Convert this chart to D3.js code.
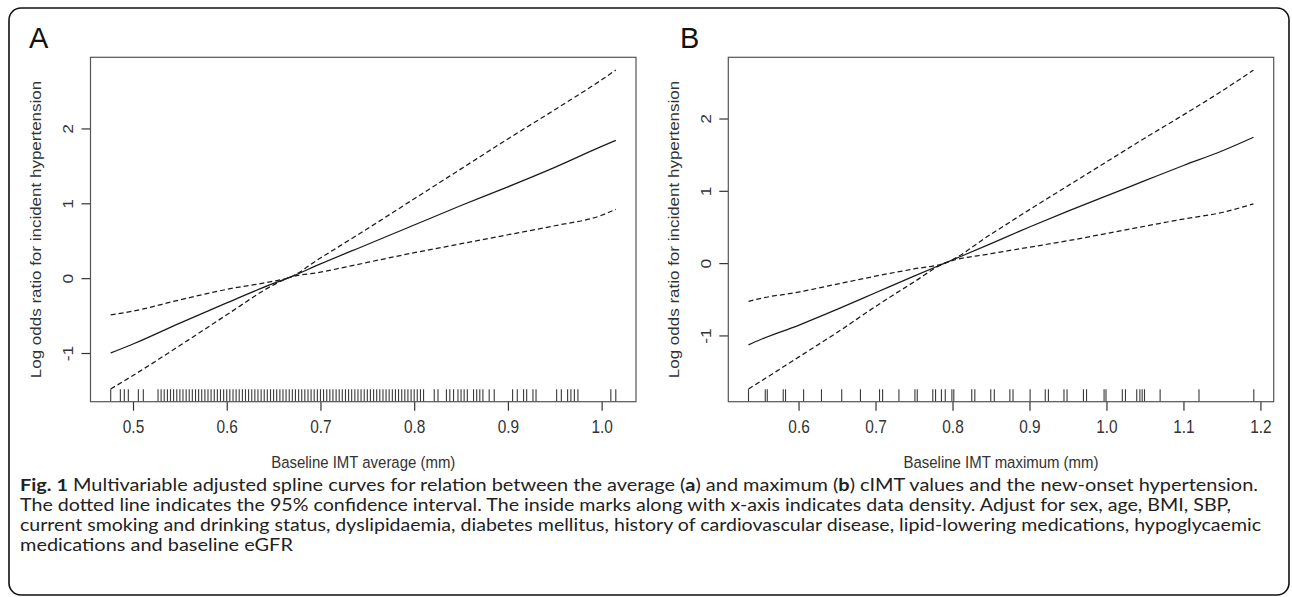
<!DOCTYPE html>
<html>
<head>
<meta charset="utf-8">
<script src="https://cdn.jsdelivr.net/npm/d3@7"></script>
<style>
  html, body { margin: 0; padding: 0; background: #fff; }
  svg { display: block; }
</style>
</head>
<body>
<div id="chart"></div>
<script>
// ---- data ----

// panel A : baseline IMT average
const imtAvg   = [0.4762, 0.50, 0.55, 0.60, 0.65, 0.665, 0.70, 0.75, 0.80, 0.85, 0.90, 0.95, 1.00, 1.0151];
const logOrAvg = [-1.00, -0.88, -0.60, -0.33, -0.07, 0.00, 0.19, 0.45, 0.71, 0.97, 1.22, 1.48, 1.76, 1.84];
const upperAvg = [-0.49, -0.44, -0.29, -0.15, -0.04, 0.00, 0.27, 0.66, 1.06, 1.46, 1.86, 2.25, 2.65, 2.78];
const lowerAvg = [-1.48, -1.30, -0.90, -0.49, -0.09, 0.00, 0.08, 0.21, 0.34, 0.46, 0.58, 0.70, 0.84, 0.92];
const rugAvg = [
  0.4762, 0.4865, 0.4907, 0.4950, 0.5057, 0.5110,
  0.5267, 0.5300, 0.5333, 0.5367, 0.5400, 0.5433, 0.5467, 0.5500, 0.5533, 0.5567,
  0.5600, 0.5633, 0.5667, 0.5700, 0.5733, 0.5767, 0.5800, 0.5833, 0.5867, 0.5900,
  0.5933, 0.5967, 0.6000, 0.6033, 0.6067, 0.6100, 0.6133, 0.6167, 0.6200, 0.6233,
  0.6267, 0.6300, 0.6333, 0.6367, 0.6400, 0.6433, 0.6467, 0.6500, 0.6533, 0.6567,
  0.6600, 0.6633, 0.6667, 0.6700, 0.6733, 0.6767, 0.6800, 0.6833, 0.6867, 0.6900,
  0.6933, 0.6967, 0.7000, 0.7033, 0.7067, 0.7100, 0.7133, 0.7167, 0.7200, 0.7233,
  0.7267, 0.7300, 0.7333, 0.7367, 0.7400, 0.7433, 0.7467, 0.7500, 0.7533, 0.7567,
  0.7600, 0.7633, 0.7667, 0.7700, 0.7733, 0.7767, 0.7800, 0.7833, 0.7867, 0.7900,
  0.7933, 0.7967, 0.8000, 0.8033, 0.8067, 0.8100,
  0.8214, 0.8254,
  0.8344, 0.8380, 0.8420, 0.8467, 0.8500, 0.8533, 0.8567, 0.8633, 0.8667, 0.8700,
  0.8733, 0.8800, 0.8854,
  0.9050, 0.9100, 0.9167, 0.9200, 0.9267, 0.9300,
  0.9520, 0.9570, 0.9637, 0.9672, 0.9709, 0.9747,
  1.0098, 1.0151
];
const xTicksAvg = [0.5, 0.6, 0.7, 0.8, 0.9, 1.0];

// panel B : baseline IMT maximum
const imtMax   = [0.535, 0.55, 0.60, 0.65, 0.70, 0.75, 0.79, 0.85, 0.90, 0.95, 1.00, 1.05, 1.10, 1.15, 1.191];
const logOrMax = [-1.13, -1.06, -0.86, -0.64, -0.41, -0.18, 0.00, 0.27, 0.50, 0.72, 0.93, 1.14, 1.35, 1.55, 1.74];
const upperMax = [-0.53, -0.49, -0.40, -0.29, -0.18, -0.08, 0.00, 0.40, 0.74, 1.07, 1.40, 1.73, 2.05, 2.38, 2.67];
const lowerMax = [-1.74, -1.64, -1.30, -0.96, -0.60, -0.26, 0.00, 0.13, 0.22, 0.31, 0.41, 0.51, 0.61, 0.70, 0.82];
const rugMax = [
  0.5350, 0.5568, 0.5594, 0.5801, 0.5831, 0.6066, 0.6298, 0.6561, 0.6804, 0.7052,
  0.7092, 0.7304, 0.7512, 0.7542, 0.7744, 0.7780, 0.7856, 0.7906, 0.7992, 0.8017,
  0.8250, 0.8290, 0.8497, 0.8543, 0.8745, 0.8786, 0.9008, 0.9205, 0.9246, 0.9448,
  0.9488, 0.9701, 0.9741, 0.9969, 0.9994, 1.0206, 1.0247, 1.0393, 1.0434, 1.0464,
  1.0494, 1.0697, 1.1202, 1.1914
];
const xTicksMax = [0.6, 0.7, 0.8, 0.9, 1.0, 1.1, 1.2];

const yTicks = [-1, 0, 1, 2];

const captionLines = [
  [["Fig. 1", true], [" Multivariable adjusted spline curves for relation between the average (", false], ["a", true],
   [") and maximum (", false], ["b", true], [") cIMT values and the new-onset hypertension.", false]],
  [["The dotted line indicates the 95% confidence interval. The inside marks along with x-axis indicates data density. Adjust for sex, age, BMI, SBP,", false]],
  [["current smoking and drinking status, dyslipidaemia, diabetes mellitus, history of cardiovascular disease, lipid-lowering medications, hypoglycaemic", false]],
  [["medications and baseline eGFR", false]]
];

// ---- layout ----
const WIDTH = 1292, HEIGHT = 597;
const PLOT_TOP = 57.3, PLOT_BOTTOM = 401.7;
const SQUEEZE = 0.88;          // the figure image is a little narrower than it is tall
const FONT = '"Liberation Sans", Arial, Helvetica, sans-serif';

document.addEventListener('DOMContentLoaded', function() {
    const svg = d3.select('#chart').append('svg')
        .attr('width', WIDTH)
        .attr('height', HEIGHT);

    // outer frame
    svg.append('rect')
        .attr('x', 9).attr('y', 8)
        .attr('width', 1280).attr('height', 587)
        .attr('rx', 12).attr('ry', 12)
        .attr('fill', 'none')
        .attr('stroke', '#111')
        .attr('stroke-width', 1.6);

    drawPanel(svg, {
        letter: 'A', letterX: 29,
        left: 90.5, right: 636,
        xs: imtAvg, center: logOrAvg, upper: upperAvg, lower: lowerAvg,
        rug: rugAvg, xTicks: xTicksAvg,
        xTitle: 'Baseline IMT average (mm)'
    });

    drawPanel(svg, {
        letter: 'B', letterX: 680,
        left: 728.3, right: 1273.7,
        xs: imtMax, center: logOrMax, upper: upperMax, lower: lowerMax,
        rug: rugMax, xTicks: xTicksMax,
        xTitle: 'Baseline IMT maximum (mm)'
    });

    drawCaption(svg);
});

// R style axis range: data range stretched by 4% on each side
function padExtent(ext) {
    const pad = (ext[1] - ext[0]) * 0.04;
    return [ext[0] - pad, ext[1] + pad];
}

function drawPanel(svg, cfg) {
    const g = svg.append('g');

    const x = d3.scaleLinear()
        .domain(padExtent(d3.extent(cfg.xs)))
        .range([cfg.left, cfg.right]);
    const y = d3.scaleLinear()
        .domain(padExtent(d3.extent(cfg.center.concat(cfg.upper, cfg.lower))))
        .range([PLOT_BOTTOM, PLOT_TOP]);

    // panel letter
    g.append('text')
        .attr('x', cfg.letterX).attr('y', 48)
        .attr('font-family', FONT)
        .attr('font-size', 29)
        .attr('fill', '#111')
        .text(cfg.letter);

    // rug (data density) inside the bottom edge
    g.append('g').selectAll('line')
        .data(cfg.rug)
        .enter().append('line')
        .attr('x1', d => x(d)).attr('x2', d => x(d))
        .attr('y1', PLOT_BOTTOM).attr('y2', PLOT_BOTTOM - 12.5)
        .attr('stroke', '#3a3a3a')
        .attr('stroke-width', 1.1);

    // curves
    const series = [
        { values: cfg.upper, dash: '5,3' },
        { values: cfg.lower, dash: '5,3' },
        { values: cfg.center, dash: null }
    ];
    const line = d3.line()
        .x(d => x(d[0]))
        .y(d => y(d[1]))
        .curve(d3.curveMonotoneX);

    series.forEach(s => {
        g.append('path')
            .attr('d', line(cfg.xs.map((v, i) => [v, s.values[i]])))
            .attr('fill', 'none')
            .attr('stroke', '#1a1a1a')
            .attr('stroke-width', 1.25)
            .attr('stroke-dasharray', s.dash);
    });

    // x axis
    const xAxis = g.append('g')
        .attr('transform', `translate(0,${PLOT_BOTTOM})`)
        .call(d3.axisBottom(x)
            .tickValues(cfg.xTicks)
            .tickFormat(d3.format('.1f'))
            .tickSize(9)
            .tickSizeOuter(0));
    xAxis.select('.domain').remove();
    xAxis.selectAll('line').attr('stroke', '#333').attr('stroke-width', 1.2);
    xAxis.selectAll('text')
        .attr('y', 31.2).attr('dy', null)
        .attr('transform', `scale(${SQUEEZE},1)`)
        .attr('font-family', FONT)
        .attr('font-size', 17.5)
        .attr('fill', '#333');

    // y axis, labels parallel to the axis
    const yAxis = g.append('g')
        .attr('transform', `translate(${cfg.left},0)`)
        .call(d3.axisLeft(y)
            .tickValues(yTicks)
            .tickFormat(d => String(d))
            .tickSize(9)
            .tickSizeOuter(0));
    yAxis.select('.domain').remove();
    yAxis.selectAll('line').attr('stroke', '#333').attr('stroke-width', 1.2);
    yAxis.selectAll('text')
        .attr('x', null).attr('dy', '0.35em')
        .attr('text-anchor', 'middle')
        .attr('transform', `translate(-23,0) scale(${SQUEEZE},1) rotate(-90)`)
        .attr('font-family', FONT)
        .attr('font-size', 17.5)
        .attr('fill', '#333');

    // plot box
    g.append('rect')
        .attr('x', cfg.left).attr('y', PLOT_TOP)
        .attr('width', cfg.right - cfg.left)
        .attr('height', PLOT_BOTTOM - PLOT_TOP)
        .attr('fill', 'none')
        .attr('stroke', '#555')
        .attr('stroke-width', 1.2);

    // axis titles
    g.append('text')
        .attr('transform', `translate(${(cfg.left + cfg.right) / 2},468) scale(${SQUEEZE},1)`)
        .attr('text-anchor', 'middle')
        .attr('font-family', FONT)
        .attr('font-size', 17)
        .attr('fill', '#333')
        .text(cfg.xTitle);

    g.append('text')
        .attr('transform', `translate(${cfg.left - 55},${(PLOT_TOP + PLOT_BOTTOM) / 2}) scale(${SQUEEZE},1) rotate(-90)`)
        .attr('text-anchor', 'middle')
        .attr('dy', '0.35em')
        .attr('font-family', FONT)
        .attr('font-size', 17)
        .attr('fill', '#333')
        .text('Log odds ratio for incident hypertension');
}

function drawCaption(svg) {
    const baselines = [491, 511, 531, 551];
    const widths = [1238, 1211, 1241, null];   // right ends of the caption lines in the figure
    const texts = captionLines.map((parts, i) => {
        const t = svg.append('text')
            .attr('x', 20).attr('y', baselines[i])
            .attr('font-family', 'Lato, "Open Sans", sans-serif')
            .attr('font-size', 16.4)
            .attr('fill', '#222');
        parts.forEach(p => {
            t.append('tspan')
                .attr('font-weight', p[1] ? 'bold' : null)
                .text(p[0]);
        });
        return t;
    });

    // the type is a little wider than Lato: stretch every line by the same factor
    const stretch = widths[0] / texts[0].node().getComputedTextLength();
    texts.forEach((t, i) => {
        const w = widths[i] || t.node().getComputedTextLength() * stretch;
        t.attr('textLength', w).attr('lengthAdjust', 'spacingAndGlyphs');
    });
}
</script>
</body>
</html>
